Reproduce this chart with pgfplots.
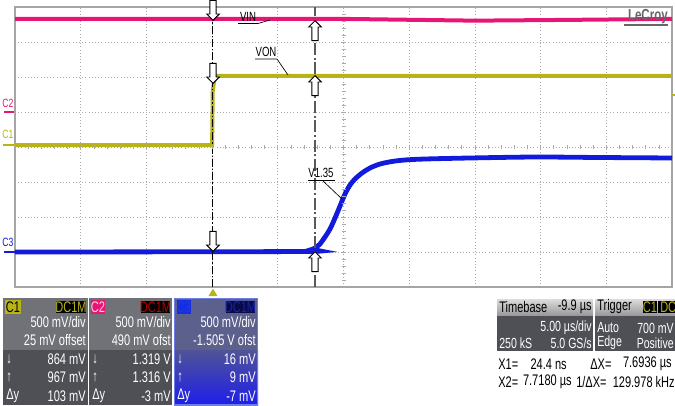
\documentclass[border=0pt]{standalone}
\usepackage{pgfplots}
\pgfplotsset{compat=1.18}
\usepackage{fontspec}
\setmainfont{Liberation Sans}
\newfontfamily\nf[FakeStretch=0.72]{Liberation Sans}
\usetikzlibrary{shapes.arrows}
\definecolor{cOne}{RGB}{184,180,22}
\definecolor{cTwo}{RGB}{230,22,118}
\definecolor{cThree}{RGB}{18,26,220}
\definecolor{gridc}{RGB}{170,170,170}
\definecolor{framec}{RGB}{165,165,165}
\definecolor{panel}{RGB}{112,114,120}
\definecolor{panelD}{RGB}{78,80,86}
\definecolor{hdrT}{RGB}{220,220,220}
\definecolor{hdrB}{RGB}{150,150,152}
\definecolor{bTop}{RGB}{92,96,140}
\definecolor{bMid}{RGB}{80,84,150}
\definecolor{bBot}{RGB}{30,30,235}
\definecolor{bBorder}{RGB}{110,125,230}
\definecolor{bBadge}{RGB}{20,45,230}
\definecolor{bBadgeT}{RGB}{40,60,200}
\definecolor{bDC}{RGB}{10,10,70}
\definecolor{bDCT}{RGB}{25,35,170}
\tikzset{
  cur/.style={single arrow, draw=black, fill=white, line width=0.7pt, minimum height=15pt,
    inner sep=2pt, single arrow head extend=2.4pt, single arrow tip angle=90, anchor=tip},
  pt/.style={font=\nf\fontsize{11.5pt}{13pt}\selectfont, inner sep=0pt, text=white},
  bt/.style={font=\nf\fontsize{11.5pt}{13pt}\selectfont, inner sep=0pt, text=black},
  ps/.style={font=\nf\fontsize{11pt}{12pt}\selectfont, inner sep=0pt, text=white},
}
\begin{document}
\begin{tikzpicture}
\useasboundingbox (0,0) rectangle (506.25pt,303.75pt);
\begin{axis}[at={(11.25pt,88.5pt)}, anchor=south west, scale only axis,
  width=492.75pt, height=210pt, xmin=0, xmax=10, ymin=0, ymax=8,
  xtick={0,...,10}, ytick={0,...,8}, xticklabels={}, yticklabels={},
  major tick length=0pt, grid=major,
  major grid style={gridc, dotted, line width=0.6pt},
  axis line style={framec, line width=0.8pt}, clip=false]
\addplot[cTwo, line width=3pt] coordinates {(0,7.66) (3,7.66) (5,7.66) (7,7.61) (8.3,7.63) (10,7.66)};
\addplot[cOne, line width=3pt] coordinates {(0,4.057) (3.0,4.057) (3.01,5.6) (3.04,6.03) (10,6.03)};
\addplot[cThree, line width=3.6pt, smooth] coordinates {
(0,1.000) (4.338,1.014) (4.490,1.057) (4.566,1.114) (4.642,1.229) (4.718,1.429)
(4.795,1.657) (4.871,1.971) (4.947,2.314) (5.023,2.657) (5.099,2.914) (5.175,3.086)
(5.282,3.257) (5.403,3.400) (5.556,3.514) (5.738,3.586) (5.936,3.629) (6.240,3.657)
(6.925,3.686) (7.915,3.714) (8.904,3.700) (10,3.686)};
\draw[black, line width=0.8pt, dash pattern=on 6pt off 1.5pt on 1pt off 1.5pt] (axis cs:3.01,0) -- (axis cs:3.01,8);
\draw[black!65, line width=1.3pt, dash pattern=on 9pt off 2pt on 1.5pt off 2pt] (axis cs:4.566,0) -- (axis cs:4.566,8);
\end{axis}
\begin{scope}[shift={(0,303.75pt)}, x=0.75pt, y=-0.75pt]
% center ticks
\foreach \i in {0,...,50} \draw[gridc, line width=0.5pt] ({15+\i*13.14},145) -- ({15+\i*13.14},149);
\foreach \i in {0,...,40} \draw[gridc, line width=0.5pt] (341.5,{7+\i*7}) -- (345.5,{7+\i*7});
% cursor arrows
\node[cur, rotate=-90] at (213,21) {};
\node[cur, rotate=-90] at (213,84) {};
\node[cur, rotate=-90] at (213,252) {};
\node[cur, rotate=90] at (315,20) {};
\node[cur, rotate=90] at (315,75) {};
\node[cur, rotate=90] at (315,251) {};
% annotations
\node[font=\nf\fontsize{10pt}{11pt}\selectfont, inner sep=0pt] at (248,17) {VIN};
\draw[line width=0.5pt] (238,23.5) -- (258,23.5) -- (270,20);
\node[font=\nf\fontsize{10pt}{11pt}\selectfont, inner sep=0pt] at (266,52) {VON};
\draw[line width=0.5pt] (255,59) -- (277,59) -- (288,75);
\node[font=\nf\fontsize{10pt}{11pt}\selectfont, inner sep=0pt] at (321,173) {V1.35};
\draw[line width=0.5pt] (308,180) -- (335,180);
\draw[line width=0.5pt] (322,180) -- (342,199);
\node[font=\bfseries\nf\fontsize{12pt}{13pt}\selectfont, inner sep=0pt, text=black!60, anchor=east] at (668,17) {LeCroy};
\draw[black!60, line width=0.8pt] (624,25) -- (668,25);
% channel markers
\node[font=\nf\fontsize{9pt}{10pt}\selectfont, inner sep=0pt, text=cTwo] at (8,103) {C2};
\draw[cTwo, line width=1.6pt] (4,112) -- (14,112);
\node[font=\nf\fontsize{9pt}{10pt}\selectfont, inner sep=0pt, text=cOne] at (8,134) {C1};
\draw[cOne, line width=1.6pt] (3,145) -- (15,145);
\node[font=\nf\fontsize{9pt}{10pt}\selectfont, inner sep=0pt, text=cThree] at (8,242) {C3};
\draw[cThree, line width=1.6pt] (4,252) -- (15,252);
\fill[cOne] (208.5,296) -- (217.5,296) -- (213,288.5) -- cycle;
\draw[cOne, line width=1pt] (672,95) -- (675,95);
% C1 panel
\fill[panel] (3,298) rectangle (88,350);
\fill[panelD] (3,350) rectangle (88,405);
\fill[cOne] (5,300) rectangle (21,314);
\node[bt] at (13,307) {C1};
\fill[black] (56,301) rectangle (86,313);
\node[pt, text=cOne] at (71,307) {DC1M};
\node[pt, anchor=east] at (86,322) {500 mV/div};
\node[pt, anchor=east] at (86,340) {25 mV offset};
\node[pt, anchor=west] at (6,359) {↓};
\node[pt, anchor=east] at (86,359) {864 mV};
\node[pt, anchor=west] at (6,377) {↑};
\node[pt, anchor=east] at (86,377) {967 mV};
\node[pt, anchor=west] at (6,396) {Δy};
\node[pt, anchor=east] at (86,396) {103 mV};
% C2 panel
\fill[panel] (89,298) rectangle (172,350);
\fill[panelD] (89,350) rectangle (172,405);
\fill[cTwo] (91,300) rectangle (105,314);
\node[pt, text=pink!70!white] at (98,307) {C2};
\fill[black] (141,301) rectangle (170,313);
\node[pt, text=red!75!black] at (155.5,307) {DC1M};
\node[pt, anchor=east] at (171,322) {500 mV/div};
\node[pt, anchor=east] at (171,340) {490 mV ofst};
\node[pt, anchor=west] at (92,359) {↓};
\node[pt, anchor=east] at (171,359) {1.319 V};
\node[pt, anchor=west] at (92,377) {↑};
\node[pt, anchor=east] at (171,377) {1.316 V};
\node[pt, anchor=west] at (92,396) {Δy};
\node[pt, anchor=east] at (171,396) {-3 mV};
% C3 panel
\fill[bTop] (174,298) rectangle (258,350);
\shade[top color=bMid, bottom color=bBot] (174,350) rectangle (258,405);
\draw[bBorder, line width=0.8pt] (174.5,298.5) rectangle (257.5,405);
\fill[bBadge] (177,300) rectangle (191,314);
\node[pt, text=bBadgeT] at (184,307) {C3};
\fill[bDC] (226,301) rectangle (255,313);
\node[pt, text=bDCT] at (240.5,307) {DC1M};
\node[pt, anchor=east] at (256,322) {500 mV/div};
\node[pt, anchor=east] at (256,340) {-1.505 V ofst};
\node[pt, anchor=west] at (177,359) {↓};
\node[pt, anchor=east] at (256,359) {16 mV};
\node[pt, anchor=west] at (177,377) {↑};
\node[pt, anchor=east] at (256,377) {9 mV};
\node[pt, anchor=west] at (177,396) {Δy};
\node[pt, anchor=east] at (256,396) {-7 mV};
% Timebase panel
\shade[top color=hdrT, bottom color=hdrB] (497,299) rectangle (593,316);
\fill[panelD] (497,316) rectangle (593,351);
\node[bt, anchor=west] at (499,307) {Timebase};
\node[bt, anchor=east] at (592,307) {-9.9 µs};
\node[ps, anchor=east] at (592,328) {5.00 µs/div};
\node[ps, anchor=west] at (499,343) {250 kS};
\node[ps, anchor=east] at (592,343) {5.0 GS/s};
% Trigger panel
\shade[top color=hdrT, bottom color=hdrB] (595,299) rectangle (675,316);
\fill[panelD] (595,316) rectangle (675,351);
\node[bt, anchor=west] at (597,307) {Trigger};
\fill[black] (643,301) rectangle (657,313);
\node[pt, text=cOne] at (650,307) {C1};
\fill[black] (658,301) rectangle (675,313);
\node[pt, text=cOne, anchor=west] at (660,307) {DC};
\node[ps, anchor=west] at (597,328) {Auto};
\node[ps, anchor=east] at (674,328) {700 mV};
\node[ps, anchor=west] at (597,343) {Edge};
\node[ps, anchor=east] at (674,343) {Positive};
% cursor readouts
\node[bt, anchor=west] at (498,364) {X1=};
\node[bt, anchor=east] at (567,364) {24.4 ns};
\node[bt, anchor=west] at (590,364) {ΔX=};
\node[bt, anchor=east] at (672,364) {7.6936 µs};
\node[bt, anchor=west] at (498,382) {X2=};
\node[bt, anchor=east] at (572,382) {7.7180 µs};
\node[bt, anchor=west] at (576,382) {1/ΔX=};
\node[bt, anchor=east] at (675,382) {129.978 kHz};
\end{scope}
\end{tikzpicture}
\end{document}
